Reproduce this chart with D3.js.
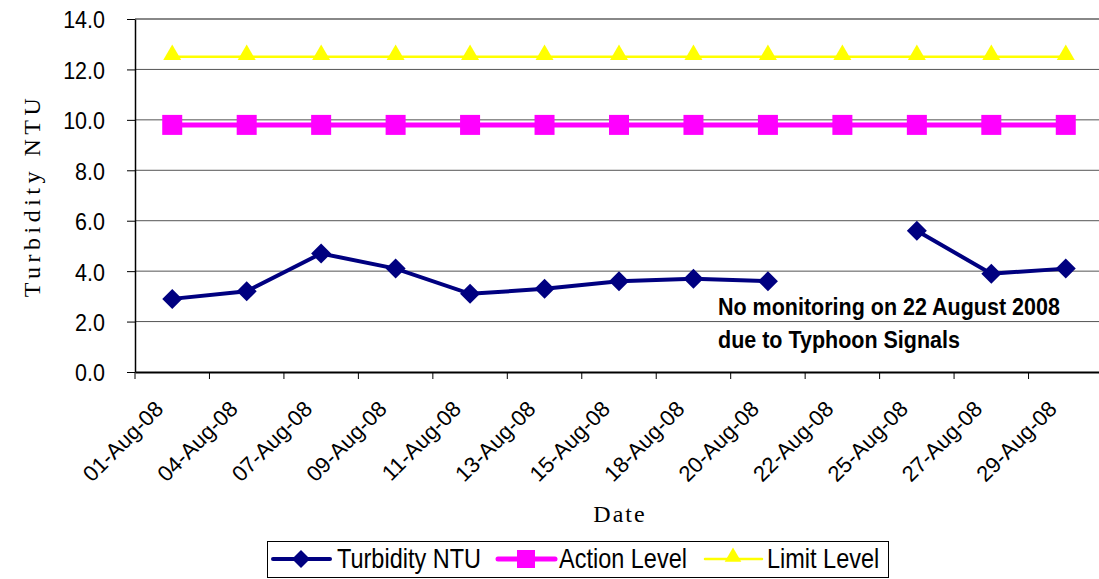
<!DOCTYPE html>
<html>
<head>
<meta charset="utf-8">
<script src="https://cdn.jsdelivr.net/npm/d3@7"></script>
<style>
  body { margin: 0; background: #fff; }
  svg { display: block; }
</style>
</head>
<body>
<svg id="chart" width="1099" height="579"></svg>
<script>
var dates = ['01-Aug-08', '04-Aug-08', '07-Aug-08', '09-Aug-08', '11-Aug-08', '13-Aug-08', '15-Aug-08',
             '18-Aug-08', '20-Aug-08', '22-Aug-08', '25-Aug-08', '27-Aug-08', '29-Aug-08'];
var turbidity = [2.9, 3.2, 4.7, 4.1, 3.1, 3.3, 3.6, 3.7, 3.6, null, 5.6, 3.9, 4.1];
var actionLevel = [9.8, 9.8, 9.8, 9.8, 9.8, 9.8, 9.8, 9.8, 9.8, 9.8, 9.8, 9.8, 9.8];
var limitLevel = [12.5, 12.5, 12.5, 12.5, 12.5, 12.5, 12.5, 12.5, 12.5, 12.5, 12.5, 12.5, 12.5];
var yTicks = [0, 2, 4, 6, 8, 10, 12, 14];

var svg = d3.select("#chart");
var pLeft = 135, pRight = 1103, pTop = 19, pBottom = 372;
var stretch = 1.15; // text in the picture is a bit taller than it is wide
var sans = "Liberation Sans, Arial, sans-serif";
var serif = "Liberation Serif, Times New Roman, serif";

var x = d3.scaleBand().domain(dates).range([pLeft, pRight]);
var y = d3.scaleLinear().domain([0, 14]).range([pBottom, pTop]);

function tallText(g, tx, ty, size) {
    return g.append("text")
        .attr("transform", "translate(" + tx + "," + ty + ") scale(1," + stretch + ")")
        .attr("font-family", sans)
        .attr("font-size", size);
}

// grid
svg.append("g")
    .selectAll("line")
    .data(yTicks.slice(1))
    .enter().append("line")
    .attr("x1", pLeft).attr("x2", pRight)
    .attr("y1", function(d) { return y(d); })
    .attr("y2", function(d) { return y(d); })
    .attr("stroke", function(d) { return d == 14 ? "#888" : "#555"; })
    .attr("stroke-width", function(d) { return d == 14 ? 2 : 1; });

// y axis
var yAxis = svg.append("g")
    .attr("transform", "translate(" + pLeft + ",0)")
    .call(d3.axisLeft(y).tickValues(yTicks).tickFormat(d3.format(".1f")).tickSize(8).tickSizeOuter(0));
yAxis.select(".domain").attr("stroke", "#000").attr("stroke-width", 1.5);
yAxis.selectAll(".tick line").attr("stroke", "#000");
yAxis.selectAll("text")
    .attr("x", 0)
    .attr("dy", "0.36em")
    .attr("transform", "translate(-30,0) scale(1," + stretch + ")")
    .attr("font-family", sans)
    .attr("font-size", 21.5)
    .attr("fill", "#000");

// x axis
var xAxis = svg.append("g")
    .attr("transform", "translate(0," + pBottom + ")")
    .call(d3.axisBottom(x).tickSize(0).tickSizeOuter(0));
xAxis.select(".domain").attr("stroke", "#000").attr("stroke-width", 2);
xAxis.selectAll(".tick line").remove();
xAxis.selectAll(".tick text").remove();

svg.append("g")
    .selectAll("line")
    .data(dates)
    .enter().append("line")
    .attr("x1", function(d) { return x(d); })
    .attr("x2", function(d) { return x(d); })
    .attr("y1", pBottom).attr("y2", pBottom + 7)
    .attr("stroke", "#000");

svg.append("g")
    .selectAll("text")
    .data(dates)
    .enter().append("text")
    .attr("transform", function(d) {
        return "translate(" + (x(d) + x.bandwidth() / 2 - 13) + "," + (pBottom + 33) + ") rotate(-45)";
    })
    .attr("text-anchor", "end")
    .attr("dy", "0.35em")
    .attr("font-family", sans)
    .attr("font-size", 22)
    .text(function(d) { return d; });

// axis titles
svg.append("text")
    .attr("transform", "translate(40," + ((pTop + pBottom) / 2) + ") rotate(-90)")
    .attr("text-anchor", "middle")
    .attr("font-family", serif)
    .attr("font-size", 24)
    .attr("letter-spacing", 4.5)
    .text("Turbidity NTU");

svg.append("text")
    .attr("x", 620).attr("y", 522)
    .attr("text-anchor", "middle")
    .attr("font-family", serif)
    .attr("font-size", 24)
    .attr("letter-spacing", 2)
    .text("Date");

function cx(i) { return x(dates[i]) + x.bandwidth() / 2; }

var line = d3.line()
    .defined(function(d) { return d != null; })
    .x(function(d, i) { return cx(i); })
    .y(function(d) { return y(d); });

// Limit level
svg.append("path").datum(limitLevel)
    .attr("d", line).attr("fill", "none")
    .attr("stroke", "#FFFF00").attr("stroke-width", 2.5);
svg.append("g").selectAll("path")
    .data(limitLevel)
    .enter().append("path")
    .attr("d", d3.symbol().type(d3.symbolTriangle).size(140))
    .attr("transform", function(d, i) { return "translate(" + cx(i) + "," + (y(d) - 2) + ")"; })
    .attr("fill", "#FFFF00");

// Action level
svg.append("path").datum(actionLevel)
    .attr("d", line).attr("fill", "none")
    .attr("stroke", "#FF00FF").attr("stroke-width", 5);
svg.append("g").selectAll("rect")
    .data(actionLevel)
    .enter().append("rect")
    .attr("x", function(d, i) { return cx(i) - 10; })
    .attr("y", function(d) { return y(d) - 10; })
    .attr("width", 20).attr("height", 20)
    .attr("fill", "#FF00FF");

// Turbidity
svg.append("path").datum(turbidity)
    .attr("d", line).attr("fill", "none")
    .attr("stroke", "#000080").attr("stroke-width", 4);
svg.append("g").selectAll("path")
    .data(turbidity.map(function(d, i) { return { v: d, i: i }; }).filter(function(d) { return d.v != null; }))
    .enter().append("path")
    .attr("d", "M0,-10L10,0L0,10L-10,0Z")
    .attr("transform", function(d) { return "translate(" + cx(d.i) + "," + y(d.v) + ")"; })
    .attr("fill", "#000080");

// annotation
tallText(svg, 718, 315, 21.5).attr("font-weight", "bold").text("No monitoring on 22 August 2008");
tallText(svg, 718, 348, 21.5).attr("font-weight", "bold").text("due to Typhoon Signals");

// legend
var legend = svg.append("g");
legend.append("rect")
    .attr("x", 267.5).attr("y", 541.5).attr("width", 621).attr("height", 36)
    .attr("fill", "#fff").attr("stroke", "#000");

var items = [
    { name: "Turbidity NTU", color: "#000080", width: 4, x0: 273, tx: 337 },
    { name: "Action Level", color: "#FF00FF", width: 5, x0: 498, tx: 559 },
    { name: "Limit Level", color: "#FFFF00", width: 2.5, x0: 705, tx: 767 }
];
var ly = 559;
items.forEach(function(it, k) {
    legend.append("line")
        .attr("x1", it.x0).attr("x2", it.x0 + 57)
        .attr("y1", ly).attr("y2", ly)
        .attr("stroke", it.color).attr("stroke-width", it.width)
        .attr("stroke-linecap", "round");
    var mx = it.x0 + 28;
    if (k == 0) {
        legend.append("path").attr("d", "M0,-9L9,0L0,9L-9,0Z")
            .attr("transform", "translate(" + mx + "," + ly + ")").attr("fill", it.color);
    } else if (k == 1) {
        legend.append("rect").attr("x", mx - 9).attr("y", ly - 9).attr("width", 18).attr("height", 18)
            .attr("fill", it.color);
    } else {
        legend.append("path").attr("d", d3.symbol().type(d3.symbolTriangle).size(120))
            .attr("transform", "translate(" + mx + "," + (ly - 2) + ")").attr("fill", it.color);
    }
    tallText(legend, it.tx, ly + 9, 23.5).text(it.name);
});
</script>
</body>
</html>
